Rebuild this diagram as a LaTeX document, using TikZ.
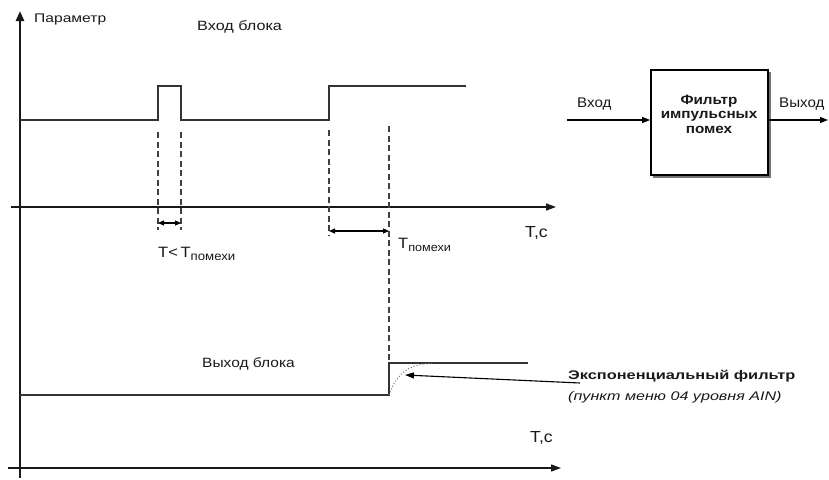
\documentclass[tikz,border=0pt]{standalone}
\usepackage{fontspec}
\setmainfont{Liberation Sans}
\usetikzlibrary{arrows.meta}
\newcommand{\wtx}[2][1.22]{\scalebox{#1}[1]{#2}}
\newcommand{\fsz}[1]{\fontsize{#1}{#1}\selectfont}
\begin{document}
\begin{tikzpicture}[x=1pt,y=-1pt,
  sig/.style={line width=1.3pt, draw=black!80},
  axis/.style={line width=1.3pt, draw=black!90, -{Triangle[length=10pt,width=7pt]}},
  dsh/.style={dash pattern=on 6pt off 3.5pt, line width=1.3pt, draw=black!75},
  dim/.style={line width=1.1pt, {Triangle[length=6pt,width=5pt]}-{Triangle[length=6pt,width=5pt]}},
  io/.style={line width=1.1pt, -{Triangle[length=8pt,width=6pt]}},
  lbl/.style={inner sep=0pt, anchor=base west, text=black!90},
]
\useasboundingbox (0,0) rectangle (829,479);

% axes
\coordinate (yb) at (20,478); \coordinate (yt) at (20,11);
\coordinate (a1l) at (11,207); \coordinate (a1r) at (556,207);
\coordinate (a2l) at (8,468); \coordinate (a2r) at (561,468);
\draw[axis] (a1l) -- (a1r);
\draw[axis] (a2l) -- (a2r);
\draw[line width=2.6pt, draw=black!90, -{Triangle[length=10pt,width=8pt]}] (yb) -- (yt);

% input signal
\draw[sig] (20,120) -- (158,120) -- (158,86) -- (181,86) -- (181,120) -- (329,120) -- (329,86) -- (466,86);

% output signal
\draw[sig] (20,395) -- (389,395) -- (389,363) -- (528,363);
\draw[dotted, line width=1pt, draw=black!55] (389,395) .. controls (397,372) and (410,364) .. (434,363);

% dashed guides
\coordinate (d1t) at (158,132); \coordinate (d1b) at (158,230);
\coordinate (d2t) at (181,132); \coordinate (d2b) at (181,230);
\coordinate (d3t) at (329,130); \coordinate (d3b) at (329,236);
\coordinate (d4t) at (389,126); \coordinate (d4b) at (389,362);
\draw[dsh] (d1t) -- (d1b);
\draw[dsh] (d2t) -- (d2b);
\draw[dsh] (d3t) -- (d3b);
\draw[dsh] (d4t) -- (d4b);

% dimension arrows
\coordinate (m1l) at (158,223); \coordinate (m1r) at (181,223);
\coordinate (m2l) at (329,231); \coordinate (m2r) at (389,231);
\draw[dim] (m1l) -- (m1r);
\draw[dim] (m2l) -- (m2r);

% filter block
\fill[black!55] (653,72) rectangle (770.5,177.5);
\node[draw, line width=1.8pt, fill=white, minimum width=117pt, minimum height=105pt, inner sep=0pt] (flt) at (709.5,122.5) {};
\node[inner sep=0pt, align=center, font=\bfseries\fsz{13.5}, text=black!90] (fltt) at (709,114) {\wtx[1.13]{Фильтр}\\[1pt]\wtx[1.13]{импульсных}\\[1pt]\wtx[1.13]{помех}};
\coordinate (inp) at (567,120); \coordinate (outp) at (828,120);
\draw[io] (inp) -- (inp -| flt.west);
\draw[io] (outp -| flt.east) -- (outp);

% labels
\node[lbl, font=\fsz{12.5}] (lpar) at (34,22) {\wtx[1.25]{Параметр}};
\node[lbl, font=\fsz{13.5}] (lvh) at (197,30) {\wtx[1.2]{Вход блока}};
\node[lbl, font=\fsz{14}] (lin) at (577,107) {\wtx[1.08]{Вход}};
\node[lbl, font=\fsz{14}] (lout) at (779,107) {\wtx[1.08]{Выход}};
\node[lbl, font=\fsz{13.5}] (lvyh) at (202,367) {\wtx[1.15]{Выход блока}};
\node[lbl, font=\fsz{15}] (lt1) at (158,257) {\wtx[1.1]{T<\,T}\raisebox{-3pt}{\fsz{12}\wtx[1.1]{помехи}}};
\node[lbl, font=\fsz{15}] (lt2) at (398,248) {\wtx[1.1]{T}\raisebox{-3pt}{\fsz{11.5}\wtx[1.1]{помехи}}};
\node[lbl, font=\fsz{16}] (ltc1) at (525,237) {\wtx[1.1]{T,c}};
\node[lbl, font=\fsz{16}] (ltc2) at (530,442) {\wtx[1.1]{T,c}};
\node[lbl, font=\bfseries\fsz{12.5}] (lexp) at (568,379) {\wtx[1.31]{Экспоненциальный фильтр}};
\node[lbl, font=\itshape\fsz{12.5}] (lmenu) at (568,400) {\wtx[1.29]{(пункт меню 04 уровня AIN)}};

% pointer arrow
\coordinate (ps) at (580,383); \coordinate (pe) at (405,375);
\draw[line width=1.1pt, -{Triangle[length=9pt,width=6pt]}] (ps) -- (pe);
\end{tikzpicture}
\end{document}
